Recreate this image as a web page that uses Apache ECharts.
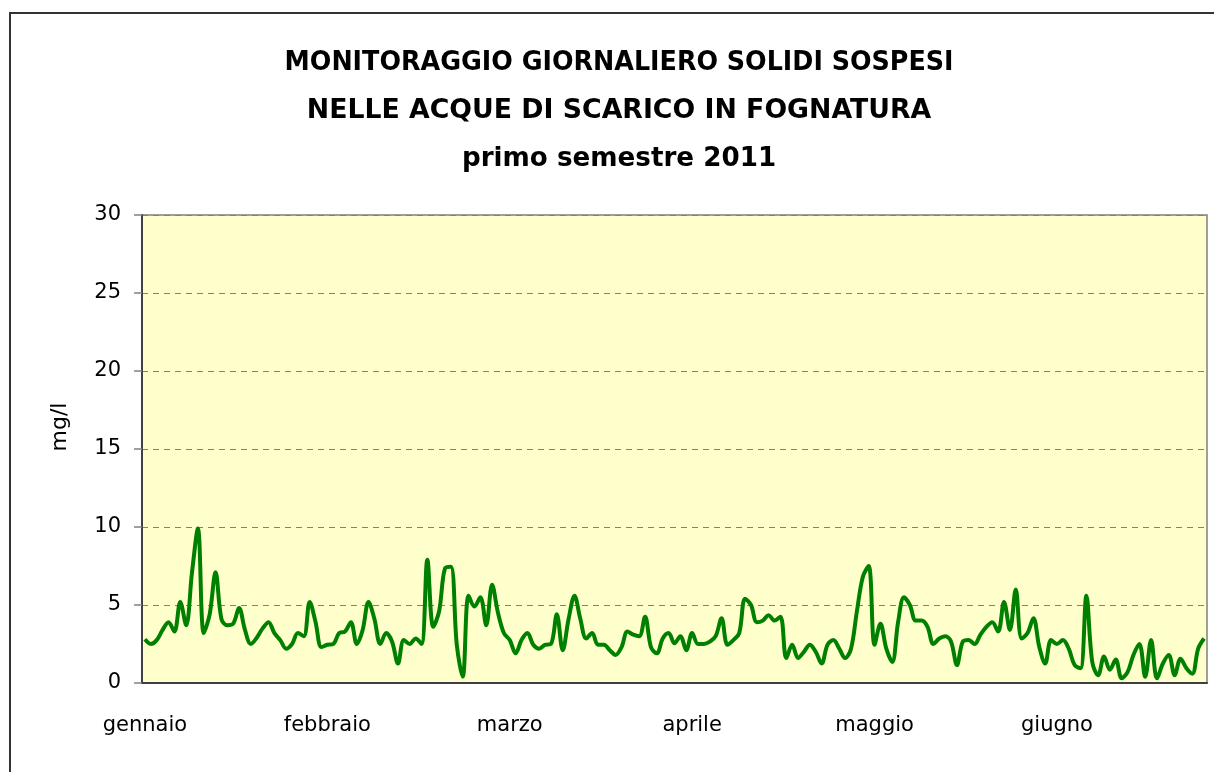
<!DOCTYPE html>
<html>
<head>
<meta charset="utf-8">
<title>Monitoraggio solidi sospesi 2011</title>
<script src="https://cdn.jsdelivr.net/npm/echarts@6/dist/echarts.min.js"></script>
<style>
  html, body { margin: 0; padding: 0; background: #ffffff; }
  #chart { width: 1214px; height: 772px; }
</style>
</head>
<body>
<div id="chart"></div>
<script>
// Mesi del primo semestre e relative etichette
const months = ['gennaio', 'febbraio', 'marzo', 'aprile', 'maggio', 'giugno'];

// Righe del titolo
const titleLines = [
  'MONITORAGGIO GIORNALIERO SOLIDI SOSPESI',
  'NELLE ACQUE DI SCARICO IN FOGNATURA',
  'primo semestre 2011'
];

// Solidi sospesi giornalieri (mg/l), un array per mese
const gennaio = [2.8, 2.5, 2.75, 3.4, 3.9, 3.3, 5.2, 3.7, 7.1, 9.9, 3.2, 4.4, 7.1, 4.1, 3.7, 3.8,
  4.8, 3.4, 2.5, 2.9, 3.5, 3.9, 3.2, 2.75, 2.2, 2.5, 3.2, 3.0, 5.2, 3.9, 2.3];
const febbraio = [2.45, 2.5, 3.2, 3.3, 3.9, 2.5, 3.4, 5.2, 4.1, 2.5, 3.2, 2.65, 1.25, 2.75, 2.5,
  2.85, 2.5, 7.9, 3.6, 4.6, 7.35, 7.45, 2.45, 0.4, 5.6, 4.9, 5.5, 3.7];
const marzo = [6.3, 4.5, 3.2, 2.75, 1.9, 2.75, 3.2, 2.45, 2.2, 2.45, 2.5, 4.4, 2.1, 4.1, 5.6, 4.1,
  2.85, 3.2, 2.45, 2.45, 2.1, 1.8, 2.3, 3.3, 3.1, 3.0, 4.25, 2.3, 1.9, 2.85, 3.2];
const aprile = [2.55, 3.0, 2.1, 3.2, 2.5, 2.5, 2.65, 3.0, 4.15, 2.45, 2.75, 3.2, 5.4, 5.0, 3.9,
  4.0, 4.35, 4.0, 4.25, 1.6, 2.45, 1.6, 2.0, 2.45, 2.0, 1.25, 2.45, 2.75, 2.2, 1.6];
const maggio = [2.2, 4.6, 6.8, 7.5, 2.45, 3.8, 2.2, 1.35, 3.9, 5.5, 5.0, 4.0, 4.0, 3.6, 2.5, 2.85,
  3.0, 2.65, 1.15, 2.65, 2.75, 2.5, 3.1, 3.6, 3.9, 3.3, 5.2, 3.4, 6.0, 2.85, 3.2];
const giugno = [4.15, 2.3, 1.25, 2.75, 2.5, 2.75, 2.2, 1.15, 0.95, 5.6, 1.35, 0.5, 1.7, 0.85, 1.5,
  0.3, 0.7, 1.8, 2.5, 0.4, 2.75, 0.3, 1.25, 1.8, 0.5, 1.55, 0.95, 0.6, 2.2, 2.85];

const monthly = [gennaio, febbraio, marzo, aprile, maggio, giugno];

// Una categoria per giorno, etichettata con il nome del mese
const categories = [];
const values = [];
monthly.forEach((arr, m) => {
  arr.forEach(v => { categories.push(months[m]); values.push(v); });
});

const chart = echarts.init(document.getElementById('chart'), null, { renderer: 'canvas' });

// Titolo su tre righe, testo leggermente compresso in orizzontale
const titleScaleX = [0.94, 0.99, 0.97];
const titleY = [63, 111, 159];
const titleGraphics = titleLines.map((line, i) => ({
  type: 'text',
  x: 619,
  y: titleY[i],
  scaleX: titleScaleX[i],
  scaleY: 1,
  silent: true,
  style: {
    text: line,
    fontFamily: '"DejaVu Sans", sans-serif',
    fontWeight: 'bold',
    fontSize: 27,
    fill: '#000000',
    align: 'center',
    verticalAlign: 'middle'
  }
}));

chart.setOption({
  animation: false,
  backgroundColor: '#ffffff',
  graphic: [
    {
      type: 'rect',
      shape: { x: 10, y: 13, width: 1400, height: 1000 },
      style: { fill: 'none', stroke: '#333333', lineWidth: 2 },
      silent: true
    },
    ...titleGraphics,
    {
      type: 'text',
      x: 60,
      y: 427,
      rotation: Math.PI / 2,
      silent: true,
      style: {
        text: 'mg/l',
        fontFamily: '"DejaVu Sans", sans-serif',
        fontSize: 22,
        fill: '#000000',
        align: 'center',
        verticalAlign: 'middle'
      }
    }
  ],
  grid: {
    left: 142,
    right: 7,
    top: 215,
    bottom: 89,
    show: true,
    backgroundColor: '#FFFFCC',
    borderColor: '#808080',
    borderWidth: 1.5
  },
  xAxis: {
    type: 'category',
    data: categories,
    boundaryGap: true,
    axisLine: { show: true, lineStyle: { color: '#404040', width: 2 } },
    axisTick: { show: false },
    axisLabel: {
      interval: 30,
      margin: 32,
      fontFamily: '"DejaVu Sans", sans-serif',
      fontSize: 21,
      color: '#000000'
    },
    splitLine: { show: false }
  },
  yAxis: {
    type: 'value',
    min: 0,
    max: 30,
    interval: 5,
    axisLine: { show: true, lineStyle: { color: '#404040', width: 2 } },
    axisTick: { show: true, inside: false, length: 8, lineStyle: { color: '#808080', width: 1.5 } },
    axisLabel: {
      margin: 21,
      fontFamily: '"DejaVu Sans", sans-serif',
      fontSize: 21,
      color: '#000000'
    },
    splitLine: { show: true, lineStyle: { color: '#808080', width: 1, type: [6, 5] } }
  },
  series: [{
    type: 'line',
    data: values,
    smooth: 0.35,
    symbol: 'none',
    lineStyle: { color: '#008000', width: 4 },
    itemStyle: { color: '#008000' }
  }]
});
</script>
</body>
</html>
